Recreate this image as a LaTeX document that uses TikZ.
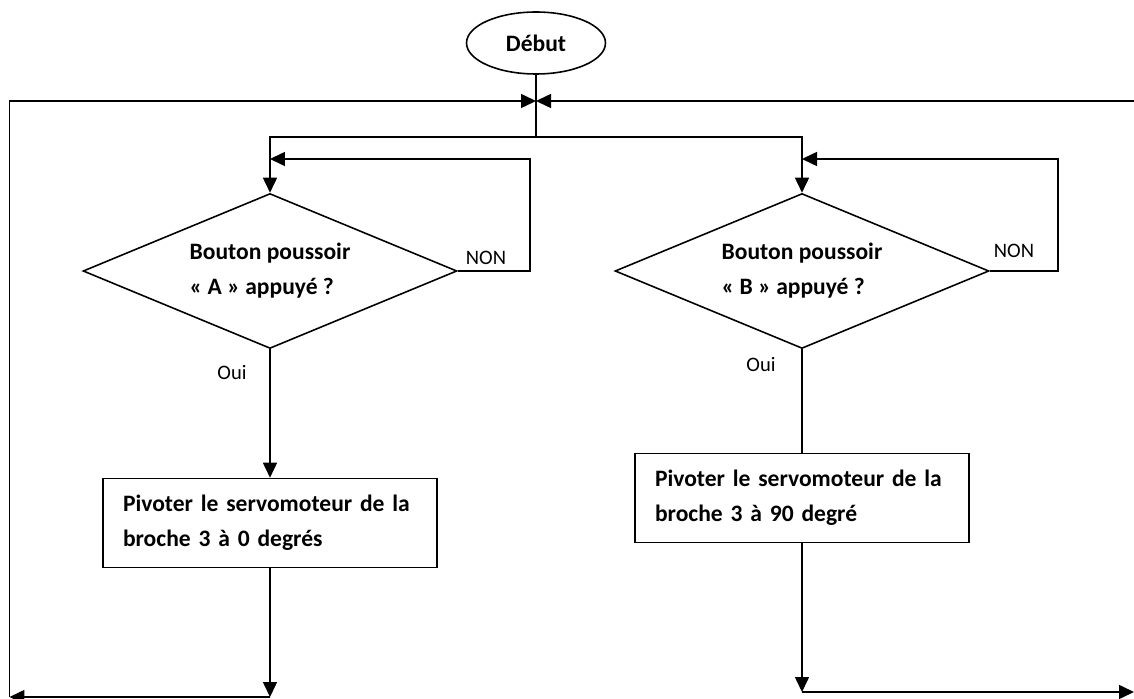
\documentclass[tikz,border=0pt]{standalone}
\usepackage{fontspec}
\setmainfont{Carlito}
\usetikzlibrary{shapes.geometric,arrows.meta}

\begin{document}
\begin{tikzpicture}[x=0.02cm,y=-0.02cm,line width=0.9pt,
  every node/.style={align=left,font=\fontsize{13.4}{19.9}\selectfont\bfseries},
  start/.style={draw,ellipse,minimum width=2.78cm,minimum height=1.24cm,inner sep=0pt},
  test/.style={draw,diamond,aspect=2.4,minimum width=7.48cm,minimum height=3.1cm,inner sep=0pt},
  action/.style={draw,rectangle,text width=5.88cm,inner xsep=0.4cm,minimum height=1.78cm},
  answer/.style={font=\fontsize{11.7}{14}\selectfont},
  arr/.style={-{Triangle[length=0.3cm,width=0.28cm]}}]
  %\draw[help lines,step=50] (0,0) grid (1134,699);
  \useasboundingbox (0,0) rectangle (1134,699);


  \draw ( 536, 43) node[start](debut) {Début};

  \coordinate (top)      at ( 536,101);
  \coordinate (split)    at ( 536,137);
  \coordinate (righttop) at (1140,101);

  \draw ( 270,271) node[test](testA) {Bouton poussoir\\« A » appuyé ?};
  \draw ( 802,271) node[test](testB) {Bouton poussoir\\« B » appuyé ?};

  \draw ( 486,258) node[answer](nonA) {NON};
  \draw (1014,251) node[answer](nonB) {NON};
  \draw ( 232,373) node[answer](ouiA) {Oui};
  \draw ( 761,365) node[answer](ouiB) {Oui};

  \coordinate (loopA) at ( 530,159);
  \coordinate (backA) at ( 270,159);
  \coordinate (loopB) at (1058,159);
  \coordinate (backB) at ( 802,159);

  \draw ( 270,523) node[action](actA) {Pivoter le servomoteur de la\\broche 3 à 0 degrés};
  \draw ( 802,498) node[action](actB) {Pivoter le servomoteur de la\\broche 3 à 90 degré};

  \coordinate (botA)     at ( 270,697);
  \coordinate (leftbot)  at (   9.5,697);
  \coordinate (botB)     at ( 802,692);
  \coordinate (rightbot) at (1134,692);

  \path[draw] (debut) -- (split);
  \path[draw,arr] (split) -| (testA);
  \path[draw,arr] (split) -| (testB);

  \path[draw,arr] (testA) -| (loopA) -- (backA);
  \path[draw,arr] (testB) -| (loopB) -- (backB);

  \path[draw,arr] (testA) -- (actA);
  \path[draw] (testB) -- (actB);

  \path[draw,arr] (actA) -- (botA);
  \path[draw,arr] (botA) -- (leftbot);
  \path[draw,arr] (leftbot) |- (top);

  \path[draw,arr] (actB) -- (botB);
  \path[draw,arr] (botB) -- (rightbot);
  \path[draw,arr] (righttop) -- (top);

\end{tikzpicture}
\end{document}
